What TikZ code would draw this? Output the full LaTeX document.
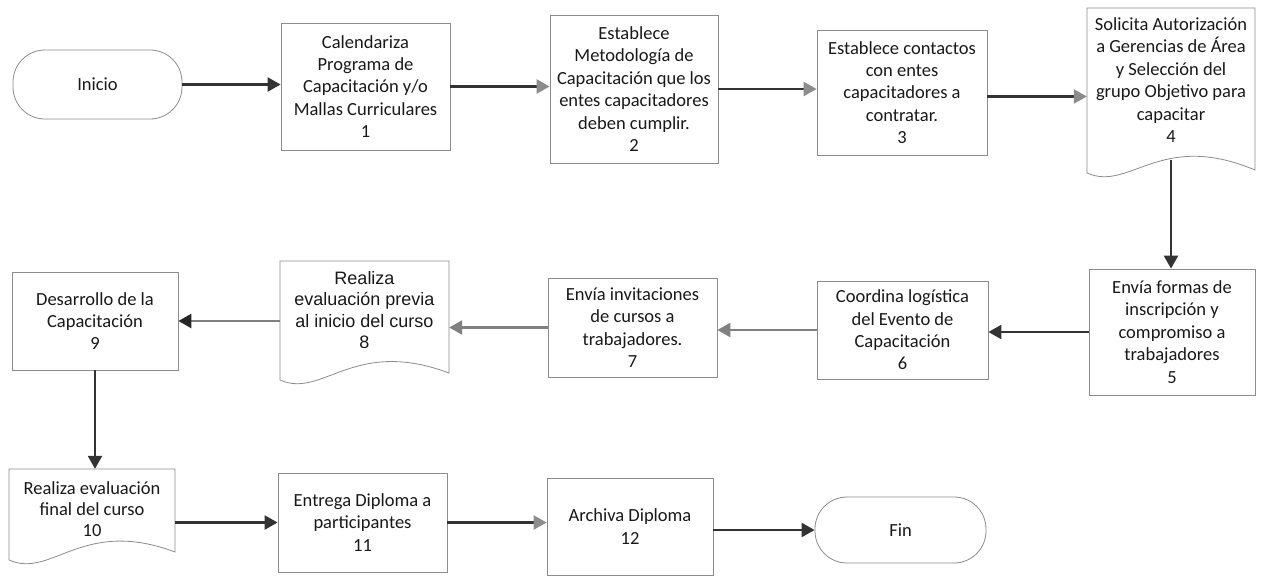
\documentclass[tikz,border=0pt]{standalone}
\usepackage{fontspec}
\setmainfont{Carlito}
\newfontfamily\arialf{Liberation Sans}
\usetikzlibrary{arrows.meta}
\begin{document}
\begin{tikzpicture}[x=1pt,y=-1pt,
  box/.style={draw=black!45, line width=0.8pt, fill=white, align=center, inner sep=0pt,
    font=\fontsize{18.5}{22.4}\selectfont, text=black!90},
  term/.style={box, rounded corners=32pt},
  doctext/.style={align=center, inner sep=0pt, draw=none,
    font=\fontsize{18.5}{22.4}\selectfont, text=black!90},
  docline/.style={draw=black!45, line width=0.8pt, fill=white},
  arrd/.style={draw=black!80, line width=2.4pt, -{Triangle[length=13pt,width=14pt]}},
  arrg/.style={draw=black!50, line width=2.4pt, -{Triangle[length=13pt,width=14pt]}},
  arrgd/.style={draw=black!50, line width=2.4pt, -{Triangle[length=13pt,width=14pt,color=black!85]}},
  arrm/.style={draw=black!80, line width=2.4pt, -{Triangle[length=13pt,width=14pt,color=black!45]}}]
\fill[white] (0,0) rectangle (1261,575);
% row 1
\node[term, minimum width=169pt, minimum height=69pt] (ini) at (97.5,84.5) {Inicio};
\node[box, minimum width=169pt, minimum height=127pt] (b1) at (365.5,86.5)
  {Calendariza\\Programa de\\Capacitación y/o\\Mallas Curriculares\\1};
\node[box, minimum width=168pt, minimum height=148pt] (b2) at (634,89)
  {Establece\\Metodología de\\Capacitación que los\\entes capacitadores\\deben cumplir.\\2};
\node[box, minimum width=170pt, minimum height=125pt] (b3) at (902,92.5)
  {Establece contactos\\con entes\\capacitadores a\\contratar.\\3};
\draw[docline] (1087,8) -- (1255,8) -- (1255,170) .. controls (1160,130) and (1130,192) .. (1087,173) -- cycle;
\node[doctext, minimum width=168pt, minimum height=144pt] (b4) at (1171,80)
  {Solicita Autorización\\a Gerencias de Área\\y Selección del\\grupo Objetivo para\\capacitar\\4};
% row 2
\node[box, minimum width=166pt, minimum height=126pt] (b5) at (1172,332)
  {Envía formas de\\inscripción y\\compromiso a\\trabajadores\\5};
\node[box, minimum width=171pt, minimum height=98pt] (b6) at (902.5,330)
  {Coordina logística\\del Evento de\\Capacitación\\6};
\node[box, minimum width=169pt, minimum height=99pt] (b7) at (632.5,327.5)
  {Envía invitaciones\\de cursos a\\trabajadores.\\7};
\draw[docline] (280,261) -- (449,261) -- (449,373) .. controls (353,337) and (323,399) .. (280,380) -- cycle;
\node[doctext, font=\arialf\fontsize{18}{21.5}\selectfont, minimum width=169pt, minimum height=98pt] (b8) at (364.5,310)
  {Realiza\\evaluación previa\\al inicio del curso\\8};
\node[box, minimum width=166pt, minimum height=98pt] (b9) at (95,321)
  {Desarrollo de la\\Capacitación\\9};
% row 3
\draw[docline] (9,469) -- (175,469) -- (175,552) .. controls (82,517) and (52,579) .. (9,560) -- cycle;
\node[doctext, font=\fontsize{18.5}{21.2}\selectfont, minimum width=166pt, minimum height=80pt] (b10) at (92,509)
  {Realiza evaluación\\final del curso\\10};
\node[box, minimum width=169pt, minimum height=99pt] (b11) at (362.5,522.5)
  {Entrega Diploma a\\participantes\\11};
\node[box, minimum width=166pt, minimum height=97pt] (b12) at (630,526.5)
  {Archiva Diploma\\12};
\node[term, minimum width=171pt, minimum height=66pt] (fin) at (900.5,530) {Fin};
% connectors
\draw[arrd] (ini.east) -- (ini.east -| b1.west);
\draw[arrm] (b1.east) -- (b1.east -| b2.west);
\draw[arrm] (b2.east) -- (b2.east -| b3.west);
\draw[arrm] ([yshift=-4pt]b3.east) -- ([yshift=-4pt]b3.east -| b4.west);
\draw[arrd] ([yshift=-8pt]b4.south) -- (b4.south |- b5.north);
\draw[arrd] (b5.west) -- (b5.west -| b6.east);
\draw[arrg] (b6.west) -- (b6.west -| b7.east);
\draw[arrg] (b7.west) -- (b7.west -| b8.east);
\draw[arrgd] (b8.west |- b9.east) -- (b9.east);
\draw[arrd] (b9.south) -- (b9.south |- b10.north);
\draw[arrd] (b10.east |- b11.west) -- (b11.west);
\draw[arrm] (b11.east) -- (b11.east -| b12.west);
\draw[arrd] (b12.east |- fin.west) -- (fin.west);
\end{tikzpicture}
\end{document}
